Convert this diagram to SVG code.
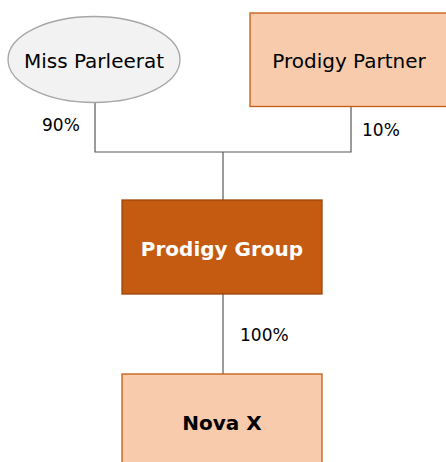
<svg xmlns="http://www.w3.org/2000/svg" width="446" height="462" viewBox="0 0 446 462">
<style>
.lbl{font-family:"DejaVu Sans",Verdana,sans-serif;font-size:20px;text-anchor:middle;fill:#000}
.pct{font-family:"DejaVu Sans",Verdana,sans-serif;font-size:17px;fill:#000}
.b{font-weight:bold}
.conn{fill:none;stroke:#595959;stroke-width:1.2}
.light{fill:#f8cbad;stroke:#c55a11;stroke-width:1.3}
</style>
<rect width="446" height="462" fill="#fff"/>
<g id="connectors">
<polyline class="conn" points="95,102 95,152 351,152 351,106"/>
<line class="conn" x1="223" y1="152" x2="223" y2="200"/>
<line class="conn" x1="223" y1="294" x2="223" y2="374"/>
<text class="pct" x="42" y="131">90%</text>
<text class="pct" x="362" y="136">10%</text>
<text class="pct" x="240" y="341">100%</text>
</g>
<g id="miss-parleerat">
<ellipse cx="94" cy="59.5" rx="86" ry="43" fill="#f2f2f2" stroke="#a6a6a6" stroke-width="1.3"/>
<text class="lbl" x="94" y="68">Miss Parleerat</text>
</g>
<g id="prodigy-partner">
<rect class="light" x="250" y="13" width="200" height="93.5"/>
<text class="lbl" x="349" y="68">Prodigy Partner</text>
</g>
<g id="prodigy-group">
<rect x="122" y="200" width="200" height="94" fill="#c55a11" stroke="#9a450d" stroke-width="1.3"/>
<text class="lbl b" x="222" y="256" style="fill:#fff">Prodigy Group</text>
</g>
<g id="nova-x">
<rect class="light" x="122" y="374" width="200" height="94"/>
<text class="lbl b" x="222" y="430">Nova X</text>
</g>
</svg>
